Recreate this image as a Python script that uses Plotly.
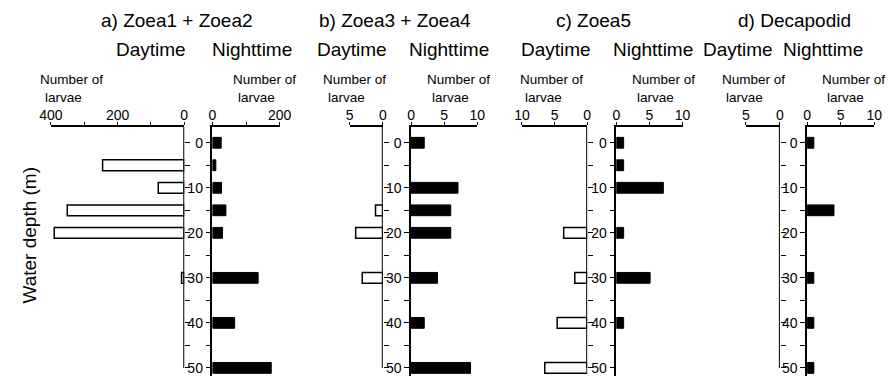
import plotly.graph_objects as go

W, H = 896, 376

depths = [0, 5, 10, 15, 20, 30, 40, 50]
depth_ticks = [0, 5, 10, 15, 20, 25, 30, 35, 40, 45, 50]
depth_labels = ["0", "", "10", "", "20", "", "30", "", "40", "", "50"]

panel_titles = ["a) Zoea1 + Zoea2", "b) Zoea3 + Zoea4", "c) Zoea5", "d) Decapodid"]

day_a = [0, 245, 78, 351, 390, 8, 0, 0]
night_a = [26, 10, 27, 40, 30, 136, 66, 175]
day_b = [0, 0, 0, 1.1, 4.1, 3.1, 0, 0]
night_b = [2, 0, 7.1, 6, 6, 4, 2, 9]
day_c = [0, 0, 0, 0, 3.6, 1.9, 4.6, 6.5]
night_c = [1.1, 1.1, 7.1, 0, 1.1, 5.1, 1.1, 0]
day_d = [0, 0, 0, 0, 0, 0, 0, 0]
night_d = [1.0, 0, 0, 4.0, 0, 1.0, 1.0, 1.0]

day_series = [day_a, day_b, day_c, day_d]
night_series = [night_a, night_b, night_c, night_d]

day_xmax = [400, 5, 10, 5]
night_xmax = [200, 10, 10, 10]
day_xticks = [[400, 300, 200, 100, 0], [5, 0], [10, 5, 0], [5, 0]]
day_xlabels = [["400", "", "200", "", "0"], ["5", "0"], ["10", "5", "0"], ["5", "0"]]
night_xticks = [[0, 100, 200], [0, 5, 10], [0, 5, 10], [0, 5, 10]]
night_xlabels = [["0", "", "200"], ["0", "5", "10"], ["0", "5", "10"], ["0", "5", "10"]]

# layout geometry (pixels)
day_px = [(40, 177), (347, 381), (524, 591), (754, 789)]
night_px = [(206, 275), (410, 478), (621, 689), (817, 886)]
title_x = [170, 394, 598, 804]
daylbl_x = [143, 349, 559, 746]
nightlbl_x = [247, 449, 659, 833]
num_day_x = [27, 318, 520, 727]
num_night_x = [225, 424, 635, 830]

axis_top_px = 127
yrange = [51.8, -3.5]
FONT = "Liberation Sans, Arial, sans-serif"

fig = go.Figure()
layout = dict(
    width=W, height=H, margin=dict(l=0, r=0, t=0, b=0),
    paper_bgcolor="white", plot_bgcolor="white", showlegend=False,
    font=dict(family=FONT, color="black", size=14), barmode="overlay",
)
shapes = []
annotations = []

def px_x(v):
    return v / W

def px_y(v):
    return 1 - v / H

ydom = [0, px_y(axis_top_px)]

for i in range(4):
    kd, kn = 2 * i + 1, 2 * i + 2
    dv = [v if v > 0 else None for v in day_series[i]]
    nv = [v if v > 0 else None for v in night_series[i]]
    fig.add_trace(go.Bar(x=dv, y=depths, orientation="h", width=2.4,
                         marker=dict(color="white", line=dict(color="black", width=1.5)),
                         xaxis=f"x{kd}", yaxis=f"y{kd}", hoverinfo="x+y"))
    fig.add_trace(go.Bar(x=nv, y=depths, orientation="h", width=2.4,
                         marker=dict(color="black", line=dict(color="black", width=1)),
                         xaxis=f"x{kn}", yaxis=f"y{kn}", hoverinfo="x+y"))
    common_x = dict(side="top", showline=True, linecolor="black", linewidth=1.5,
                    ticks="outside", ticklen=3, tickwidth=1.2, tickcolor="black",
                    ticklabelstandoff=-3,
                    showgrid=False, zeroline=False, tickfont=dict(size=14),
                    fixedrange=True, tickmode="array")
    layout[f"xaxis{kd}"] = dict(common_x, domain=[px_x(day_px[i][0]), px_x(day_px[i][1])],
                                range=[day_xmax[i], 0], anchor=f"y{kd}",
                                tickvals=day_xticks[i], ticktext=day_xlabels[i])
    layout[f"xaxis{kn}"] = dict(common_x, domain=[px_x(night_px[i][0]), px_x(night_px[i][1])],
                                range=[0, night_xmax[i]], anchor=f"y{kn}",
                                tickvals=night_xticks[i], ticktext=night_xlabels[i])
    layout[f"yaxis{kd}"] = dict(domain=ydom, range=yrange, anchor=f"x{kd}", side="right",
                                showline=False, ticks="outside", ticklen=5, tickwidth=1.2,
                                tickcolor="black", tickmode="array", tickvals=depth_ticks,
                                showticklabels=False, showgrid=False, zeroline=False,
                                fixedrange=True)
    layout[f"yaxis{kn}"] = dict(domain=ydom, range=yrange, anchor=f"x{kn}", side="left",
                                showline=True, linecolor="black", linewidth=1.5,
                                ticks="outside", ticklen=5, tickwidth=1.2, tickcolor="black",
                                tickmode="array", tickvals=depth_ticks, ticktext=depth_labels,
                                tickfont=dict(size=14), showgrid=False, zeroline=False,
                                fixedrange=True)
    # daytime vertical axis line, ending at 50 m
    shapes.append(dict(type="line", xref=f"x{kd}", yref=f"y{kd}", x0=0, x1=0,
                       y0=yrange[1], y1=50, line=dict(color="black", width=2)))
    # titles
    annotations.append(dict(text=panel_titles[i], x=px_x(title_x[i]), y=px_y(20),
                            xref="paper", yref="paper", xanchor="center", yanchor="middle",
                            showarrow=False, font=dict(size=19)))
    annotations.append(dict(text="Daytime", x=px_x(daylbl_x[i]), y=px_y(49),
                            xref="paper", yref="paper", xanchor="center", yanchor="middle",
                            showarrow=False, font=dict(size=19)))
    annotations.append(dict(text="Nighttime", x=px_x(nightlbl_x[i]), y=px_y(49),
                            xref="paper", yref="paper", xanchor="center", yanchor="middle",
                            showarrow=False, font=dict(size=19)))
    for x0 in (num_day_x[i], num_night_x[i]):
        annotations.append(dict(text="Number of", x=px_x(x0), y=px_y(80),
                                xref="paper", yref="paper", xanchor="left", yanchor="middle",
                                showarrow=False, font=dict(size=13.5)))
        annotations.append(dict(text="larvae", x=px_x(x0 + 5), y=px_y(97),
                                xref="paper", yref="paper", xanchor="left", yanchor="middle",
                                showarrow=False, font=dict(size=13.5)))

annotations.append(dict(text="Water depth (m)", x=px_x(17), y=px_y(235), xref="paper",
                        yref="paper", xanchor="center", yanchor="middle", textangle=-90,
                        showarrow=False, font=dict(size=19)))

layout["shapes"] = shapes
layout["annotations"] = annotations
fig.update_layout(**layout)
fig.write_html("out.html")
